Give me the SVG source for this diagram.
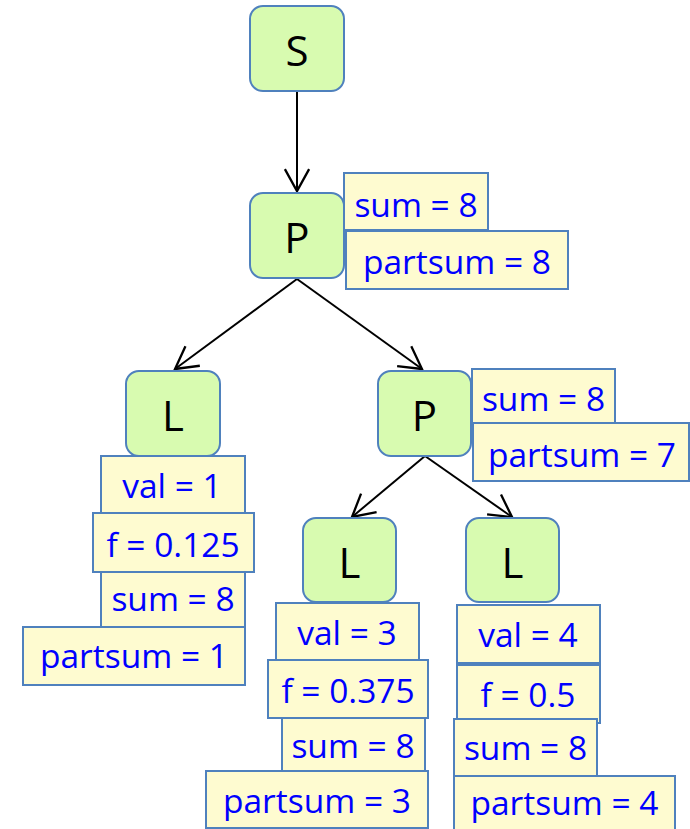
<svg xmlns="http://www.w3.org/2000/svg" width="690" height="829" viewBox="0 0 690 829">
<style>
.node{fill:#d8fbb0;stroke:#4f81bd;stroke-width:2}
.ann{fill:#fefbd0;stroke:#4f81bd;stroke-width:2}
.nt{font-family:"Open Sans","Liberation Sans",sans-serif;font-size:42px;fill:#000;text-anchor:middle}
.at{font-family:"Open Sans","Liberation Sans",sans-serif;font-size:33.5px;fill:#0000ff;text-anchor:middle}
.edge{stroke:#000;stroke-width:2;fill:none}
</style>
<defs>
<marker id="arr" markerUnits="userSpaceOnUse" markerWidth="30" markerHeight="30" viewBox="-22 -13 24 26" refX="0" refY="0" orient="auto">
<path d="M-19,-10.5 L0,0 L-19,10.5" fill="none" stroke="#000" stroke-width="2"/>
</marker>
</defs>
<rect width="690" height="829" fill="#fff"/>
<g id="connectors">
<line class="edge" x1="297" y1="91" x2="297" y2="191" marker-end="url(#arr)"/>
<line class="edge" x1="297" y1="279" x2="175" y2="369" marker-end="url(#arr)"/>
<line class="edge" x1="297" y1="279" x2="422" y2="369" marker-end="url(#arr)"/>
<line class="edge" x1="425" y1="456" x2="352" y2="517" marker-end="url(#arr)"/>
<line class="edge" x1="425" y1="456" x2="512" y2="517" marker-end="url(#arr)"/>
</g>
<g id="S">
<rect class="node" x="250" y="6" width="94" height="85" rx="13"/>
<text class="nt" x="297" y="66">S</text>
</g>
<g id="P1">
<rect class="node" x="250" y="193" width="94" height="85" rx="13"/>
<text class="nt" x="297" y="253">P</text>
<rect class="ann" x="344" y="173" width="144" height="57"/>
<text class="at" x="416" y="216.5">sum = 8</text>
<rect class="ann" x="346" y="231" width="222" height="58"/>
<text class="at" x="457" y="274">partsum = 8</text>
</g>
<g id="L1">
<rect class="node" x="126" y="371" width="94" height="85" rx="13"/>
<text class="nt" x="173" y="431">L</text>
<rect class="ann" x="101" y="456" width="144" height="57"/>
<text class="at" x="172" y="498">val = 1</text>
<rect class="ann" x="93" y="513" width="161" height="59"/>
<text class="at" x="173" y="557">f = 0.125</text>
<rect class="ann" x="101" y="572" width="144" height="55"/>
<text class="at" x="173" y="611">sum = 8</text>
<rect class="ann" x="23" y="627" width="222" height="58"/>
<text class="at" x="134" y="668">partsum = 1</text>
</g>
<g id="P2">
<rect class="node" x="378" y="371" width="93" height="85" rx="13"/>
<text class="nt" x="424.5" y="430.5">P</text>
<rect class="ann" x="472" y="369" width="143" height="54"/>
<text class="at" x="543.5" y="410.5">sum = 8</text>
<rect class="ann" x="473" y="423" width="216" height="58"/>
<text class="at" x="582" y="467">partsum = 7</text>
</g>
<g id="L2">
<rect class="node" x="303" y="518" width="93" height="84" rx="13"/>
<text class="nt" x="349.5" y="578">L</text>
<rect class="ann" x="276" y="603" width="143" height="57"/>
<text class="at" x="347" y="645">val = 3</text>
<rect class="ann" x="268" y="660" width="160" height="58"/>
<text class="at" x="348" y="702.5">f = 0.375</text>
<rect class="ann" x="282" y="718" width="143" height="53"/>
<text class="at" x="353" y="758">sum = 8</text>
<rect class="ann" x="206" y="771" width="222" height="57"/>
<text class="at" x="317" y="812.5">partsum = 3</text>
</g>
<g id="L3">
<rect class="node" x="466" y="518" width="93" height="84" rx="13"/>
<text class="nt" x="512.5" y="578">L</text>
<rect class="ann" x="457" y="605" width="143" height="58"/>
<text class="at" x="528" y="647">val = 4</text>
<rect class="ann" x="457" y="665" width="143" height="58"/>
<text class="at" x="528" y="707">f = 0.5</text>
<rect class="ann" x="454" y="719" width="143" height="57"/>
<text class="at" x="525.5" y="760">sum = 8</text>
<rect class="ann" x="454" y="776" width="221" height="56"/>
<text class="at" x="564.5" y="815">partsum = 4</text>
</g>
</svg>
